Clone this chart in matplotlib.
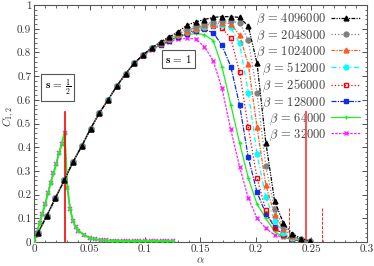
import matplotlib
matplotlib.use("Agg")
import matplotlib.pyplot as plt
from matplotlib.ticker import MultipleLocator

plt.rcParams['font.family'] = 'serif'
plt.rcParams['font.serif'] = ['cmr10', 'DejaVu Serif']
plt.rcParams['mathtext.fontset'] = 'cm'
plt.rcParams['axes.unicode_minus'] = False
plt.rcParams['axes.formatter.use_mathtext'] = True

# s = 1 : common alpha grid
alpha = [0.0035, 0.0114, 0.0193, 0.0272, 0.0351, 0.0430, 0.0509, 0.0588,
         0.0667, 0.0746, 0.0825, 0.0904, 0.0983, 0.1062, 0.1141, 0.1220,
         0.1299, 0.1378, 0.1457, 0.1536, 0.1615, 0.1694, 0.1773, 0.1852,
         0.1931, 0.2010, 0.2089, 0.2168, 0.2247, 0.2326, 0.2405, 0.2484]

rise = [0.038, 0.110, 0.186, 0.260, 0.338, 0.405, 0.478, 0.544,
        0.600, 0.658, 0.710, 0.755, 0.790, 0.820]

c_4096000 = rise + [0.845, 0.866, 0.887, 0.915, 0.929, 0.939, 0.948, 0.951,
                    0.951, 0.948, 0.911, 0.754, 0.420, 0.174, 0.080, 0.035, 0.015, 0.005]
c_2048000 = rise + [0.842, 0.862, 0.882, 0.900, 0.912, 0.920, 0.927, 0.931,
                    0.932, 0.925, 0.852, 0.630, 0.320, 0.138, 0.065, 0.030, 0.012, 0.004]
c_1024000 = rise + [0.840, 0.860, 0.878, 0.892, 0.905, 0.914, 0.920, 0.925,
                    0.922, 0.873, 0.750, 0.484, 0.240, 0.115, 0.055, 0.025, 0.010, 0.003]
c_512000 = rise + [0.838, 0.857, 0.873, 0.888, 0.900, 0.908, 0.914, 0.916,
                   0.906, 0.838, 0.630, 0.370, 0.190, 0.090, 0.040, 0.017, 0.007, 0.002]
c_256000 = rise + [0.835, 0.853, 0.868, 0.882, 0.895, 0.905, 0.912, 0.902,
                   0.860, 0.718, 0.484, 0.269, 0.135, 0.058, 0.030, 0.012, 0.005, 0.002]
c_128000 = rise + [0.832, 0.850, 0.864, 0.878, 0.890, 0.897, 0.883, 0.830,
                   0.740, 0.580, 0.357, 0.210, 0.120, 0.065, 0.030, 0.013, 0.005, 0.002]
c_64000 = rise[:13] + [0.815, 0.832, 0.852, 0.868, 0.875, 0.880, 0.875, 0.850, 0.740,
                       0.580, 0.420, 0.270, 0.160, 0.100, 0.045, 0.020, 0.010, 0.005, 0.002]
c_32000 = rise[:12] + [0.785, 0.810, 0.830, 0.845, 0.855, 0.860, 0.857, 0.824, 0.765, 0.648,
                       0.475, 0.318, 0.186, 0.100, 0.058, 0.030, 0.020, 0.011, 0.005, 0.002]

# s = 1/2
alpha_half = [0.0, 0.0025, 0.005, 0.0075, 0.010, 0.0125, 0.015, 0.0175, 0.020,
              0.0225, 0.025, 0.0275, 0.030, 0.0325, 0.035, 0.0375, 0.040, 0.045,
              0.050, 0.055, 0.060, 0.065, 0.070, 0.075, 0.080, 0.085, 0.090,
              0.095, 0.100, 0.105, 0.110, 0.115, 0.120, 0.125]
c_half = [0.0, 0.040, 0.080, 0.120, 0.160, 0.205, 0.250, 0.290, 0.330,
          0.375, 0.415, 0.460, 0.230, 0.140, 0.090, 0.065, 0.048, 0.030,
          0.018, 0.012, 0.009, 0.007, 0.006, 0.006, 0.005, 0.005, 0.005,
          0.005, 0.004, 0.004, 0.004, 0.004, 0.004, 0.004]

betas = ['4096000', '2048000', '1024000', '512000', '256000', '128000', '64000', '32000']
values = [c_4096000, c_2048000, c_1024000, c_512000, c_256000, c_128000, c_64000, c_32000]
colors = ['black', 'gray', '#ff5a1f', 'cyan', 'red', '#1030e0', '#22ee22', '#ff22ff']
styles = [(0, (3, 1, 1, 1, 1, 1)), ':', (0, (3, 1, 1, 1)), (0, (4, 2, 1, 2)), ':',
          (0, (4, 1, 1, 1)), '-', (0, (2, 1))]
markers = ['^', 'o', '^', 'o', 's', 's', '+', 'x']

fig = plt.figure(figsize=(3.74, 2.66), dpi=100)
ax = fig.add_axes([0.091, 0.090, 0.890, 0.891])

# s = 1/2 curves
ax.plot(alpha_half, c_half, color='#ff22ff', linestyle=(0, (2, 1)), lw=1.0,
        marker='x', ms=3.2, mew=1.1, zorder=2)
ax.plot(alpha_half, c_half, color='#22ee22', linestyle='-', lw=1.4,
        marker='+', ms=3.5, mew=1.0, zorder=3)

handles = []
for i in reversed(range(len(betas))):
    mfc = 'none' if markers[i] == 's' and colors[i] == 'red' else colors[i]
    h, = ax.plot(alpha, values[i], color=colors[i], linestyle=styles[i], lw=0.9,
                 marker=markers[i], ms=3.5 if markers[i] != 's' else 3.2,
                 mfc=mfc, mew=1.0, label=r'$\beta\,=\,%s$' % betas[i], zorder=4 + (8 - i))
    handles.append(h)
handles = handles[::-1]

# critical lines
ax.plot([0.0276, 0.0276], [0, 0.55], color='red', lw=1.2, zorder=6)
ax.plot([0.245, 0.245], [0, 0.55], color='#ff5050', lw=1.4, zorder=6)
ax.plot([0.230, 0.230], [0, 0.15], color='red', lw=0.6, ls='--', zorder=6)
ax.plot([0.2597, 0.2597], [0, 0.15], color='red', lw=0.6, ls='--', zorder=6)

ax.text(0.0212, 0.652, r'$\mathbf{s\,=\,\frac{1}{2}}$', fontsize=8, ha='center', va='center',
        bbox=dict(boxstyle='square,pad=0.3', fc='white', ec='#555555', lw=0.8))
ax.text(0.130, 0.772, r'$\mathbf{s\,=\,1}$', fontsize=8, ha='center', va='center',
        bbox=dict(boxstyle='square,pad=0.3', fc='white', ec='#555555', lw=0.8))

ax.set_xlim(0, 0.3)
ax.set_ylim(0, 1)
ax.xaxis.set_minor_locator(MultipleLocator(0.01))
ax.yaxis.set_minor_locator(MultipleLocator(0.02))
ax.set_xticks([0, 0.05, 0.1, 0.15, 0.2, 0.25, 0.3])
ax.set_xticklabels(['0', '0.05', '0.1', '0.15', '0.2', '0.25', '0.3'])
ax.set_yticks([0, 0.1, 0.2, 0.3, 0.4, 0.5, 0.6, 0.7, 0.8, 0.9, 1])
ax.set_yticklabels(['0', '0.1', '0.2', '0.3', '0.4', '0.5', '0.6', '0.7', '0.8', '0.9', '1'])
ax.tick_params(which='both', direction='in', top=True, right=True, labelsize=8,
               labelcolor='#333333', color='#333333', pad=2)
ax.tick_params(which='major', length=3.5, width=0.6)
ax.tick_params(which='minor', length=1.8, width=0.5)
for s in ax.spines.values():
    s.set_color('#555555')
    s.set_linewidth(0.8)

ax.set_xlabel(r'$\alpha$', fontsize=8, labelpad=1, color='#333333')
ax.set_ylabel(r'$C_{1,2}$', fontsize=8, color='#333333')
ax.yaxis.set_label_coords(-0.05, 0.53)

leg = ax.legend(handles=handles, loc='upper right', frameon=False, markerfirst=False,
                fontsize=9, handlelength=2.3, handletextpad=0.4, labelspacing=0.07,
                borderaxespad=0.15, numpoints=1)
for t in leg.get_texts():
    t.set_color('#444444')

fig.savefig('out.png', dpi=100)
